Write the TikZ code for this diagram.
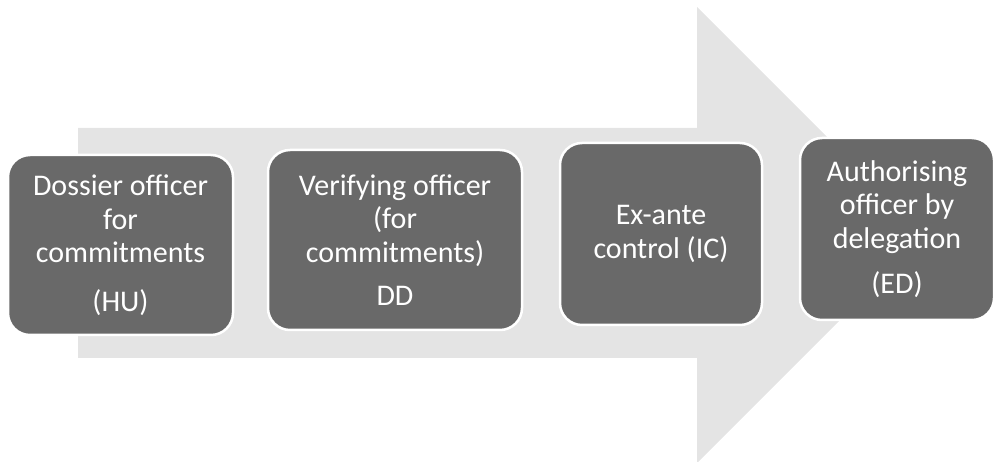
\documentclass[tikz,border=0pt]{standalone}
\usepackage{fontspec}
\setmainfont{Carlito}
\definecolor{arrowgray}{HTML}{E4E4E4}
\definecolor{boxgray}{HTML}{696969}
\tikzset{
  stepbox/.style={draw=white, line width=2.5pt, fill=boxgray, text=white,
    rounded corners=22pt, align=center, inner sep=0pt,
    font=\fontsize{30}{33.5}\selectfont}
}
\begin{document}
\begin{tikzpicture}[x=1pt,y=-1pt]
\useasboundingbox (0,0) rectangle (994,462);
\fill[arrowgray] (78,128) -- (697,128) -- (697,7) -- (925,235) -- (697,463) -- (697,358) -- (78,358) -- cycle;
\node[stepbox, minimum width=225pt, minimum height=180pt] (b1) at (120.5,245) {Dossier officer\\ for\\ commitments\\[15pt] (HU)};
\node[stepbox, minimum width=254pt, minimum height=180pt] (b2) at (395,240) {Verifying officer\\ (for\\ commitments)\\[10pt] DD};
\node[stepbox, minimum width=202pt, minimum height=182pt] (b3) at (661,234) {Ex-ante\\ control (IC)};
\node[stepbox, minimum width=194pt, minimum height=182pt] (b4) at (897,229) {Authorising\\ officer by\\ delegation\\[12pt] (ED)};
\end{tikzpicture}
\end{document}
